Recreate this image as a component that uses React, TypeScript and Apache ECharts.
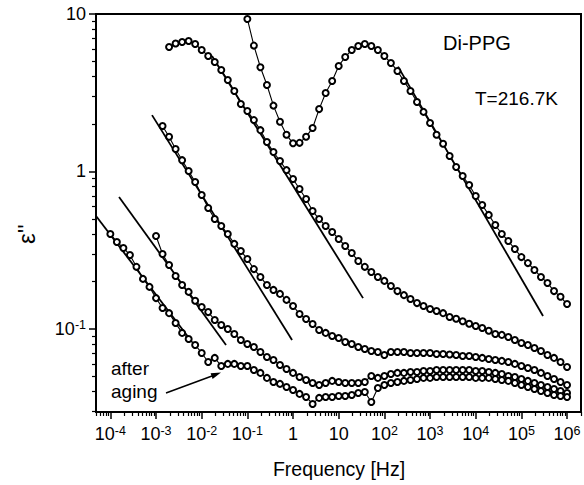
import React, { useEffect, useRef } from 'react';
import * as echarts from 'echarts';

// Frequency grid (Hz), 7 points per decade, shared by all measured curves (curves end at 1e6 Hz)
const freq = [
  1e-4, 1.389e-4, 1.931e-4, 2.683e-4, 3.728e-4, 5.179e-4, 7.197e-4,
  1e-3, 1.389e-3, 1.931e-3, 2.683e-3, 3.728e-3, 5.179e-3, 7.197e-3,
  0.01, 0.01389, 0.01931, 0.02683, 0.03728, 0.05179, 0.07197,
  0.1, 0.1389, 0.1931, 0.2683, 0.3728, 0.5179, 0.7197,
  1, 1.389, 1.931, 2.683, 3.728, 5.179, 7.197,
  10, 13.89, 19.31, 26.83, 37.28, 51.79, 71.97,
  100, 138.9, 193.1, 268.3, 372.8, 517.9, 719.7,
  1000, 1389, 1931, 2683, 3728, 5179, 7197,
  1e4, 13890, 19310, 26830, 37280, 51790, 71970,
  1e5, 138900, 193100, 268300, 372800, 517900, 719700,
  1e6,
];

// eps'' values, aligned to the END of freq
const curveA = [
  9.3, 6.30, 4.59, 3.54, 2.62, 2.07, 1.71,
  1.51, 1.52, 1.66, 1.89, 2.49, 3.15, 3.75,
  4.68, 5.33, 5.91, 6.27, 6.45, 6.27, 5.91,
  5.41, 4.89, 4.35, 3.75, 3.24, 2.76, 2.39,
  2.03, 1.71, 1.50, 1.254, 1.069, 0.936, 0.821,
  0.699, 0.613, 0.530, 0.457, 0.401, 0.362, 0.322,
  0.286, 0.262, 0.237, 0.214, 0.196, 0.174, 0.160,
  0.144,
];
const curveB = [
  6.17, 6.50, 6.64, 6.74, 6.45, 5.91, 5.41,
  4.96, 4.41, 3.81, 3.24, 2.68, 2.42, 2.12,
  1.83, 1.54, 1.33, 1.166, 1.02, 0.896, 0.774,
  0.669, 0.561, 0.499, 0.451, 0.413, 0.373, 0.336,
  0.304, 0.270, 0.248, 0.230, 0.214, 0.202, 0.1875,
  0.174, 0.164, 0.155, 0.146, 0.140, 0.134, 0.130,
  0.126, 0.119, 0.116, 0.112, 0.108, 0.1045, 0.1014,
  0.0975, 0.0929, 0.0917, 0.0889, 0.0851, 0.0815, 0.0791,
  0.0757, 0.0725, 0.0684, 0.0655, 0.0617, 0.0574,
];
const curveC = [
  1.945, 1.66, 1.39, 1.18, 1.007, 0.858, 0.709,
  0.586, 0.499, 0.451, 0.401, 0.347, 0.313, 0.278,
  0.240, 0.214, 0.190, 0.177, 0.167, 0.153, 0.140,
  0.1245, 0.1157, 0.1076, 0.0986, 0.0944, 0.0903, 0.0877,
  0.0827, 0.0803, 0.0769, 0.0746, 0.0725, 0.0714, 0.0684,
  0.0714, 0.0714, 0.0714, 0.0704, 0.0704, 0.0704, 0.0704,
  0.0694, 0.0694, 0.0689, 0.0684, 0.0674, 0.0674, 0.0664,
  0.0655, 0.0645, 0.0636, 0.0627, 0.0617, 0.0600, 0.0582,
  0.0565, 0.0549, 0.0526, 0.0503, 0.0481, 0.0461, 0.0441,
];
const curveD = [
  0.389, 0.299, 0.255, 0.217, 0.190, 0.172, 0.151,
  0.138, 0.128, 0.114, 0.106, 0.100, 0.0929, 0.0851,
  0.0803, 0.0769, 0.0714, 0.0664, 0.0636, 0.0591, 0.0557,
  0.0526, 0.0496, 0.0474, 0.0454, 0.0441, 0.0454, 0.0468,
  0.0461, 0.0454, 0.0454, 0.0454, 0.0461, 0.0503, 0.0489,
  0.0503, 0.0518, 0.0526, 0.0526, 0.0533, 0.0533, 0.0541,
  0.0541, 0.0549, 0.0549, 0.0549, 0.0549, 0.0549, 0.0549,
  0.0541, 0.0541, 0.0533, 0.0526, 0.0518, 0.0503, 0.0496,
  0.0481, 0.0468, 0.0454, 0.0441, 0.0428, 0.0416, 0.0404,
  0.0392,
];
const curveE = [
  0.401, 0.357, 0.327, 0.295, 0.248, 0.208, 0.185,
  0.157, 0.136, 0.126, 0.109, 0.0944, 0.0864, 0.0791,
  0.0704, 0.0617, 0.0655, 0.0582, 0.0600, 0.0600, 0.0582,
  0.0582, 0.0549, 0.0526, 0.0489, 0.0461, 0.0448, 0.0428,
  0.0410, 0.0387, 0.0370, 0.0334, 0.0365, 0.0370, 0.0370,
  0.0375, 0.0375, 0.0381, 0.0392, 0.0398, 0.0344, 0.0422,
  0.0441, 0.0454, 0.0461, 0.0468, 0.0474, 0.0481, 0.0489,
  0.0489, 0.0496, 0.0496, 0.0496, 0.0496, 0.0496, 0.0496,
  0.0489, 0.0489, 0.0489, 0.0481, 0.0474, 0.0468, 0.0454,
  0.0441, 0.0428, 0.0416, 0.0404, 0.0392, 0.0381, 0.0375,
  0.0370,
];

// Power-law fit lines: [freq, eps'']
const fitA = [[199, 4.63], [2.98e5, 0.121]];
const fitB = [[0.01683, 5.41], [34.1, 0.157]];
const fitC = [[8.18e-4, 2.28], [0.951, 0.0851]];
const fitD = [[1.549e-4, 0.689], [0.0341, 0.0791]];
const fitE = [[4.86e-5, 0.522], [6.14e-3, 0.0827]];

// Axis ranges
const xRange = [4.85e-5, 2.02e6];
const yRange = [0.0297, 10];
const xMajorExp = [-4, -3, -2, -1, 0, 1, 2, 3, 4, 5, 6];
const yMajorExp = [-1, 0, 1];

const FONT = '"Liberation Sans", Arial, Helvetica, sans-serif';
const lg = (v: number) => Math.log10(v);

function curvePoints(vals: number[]) {
  const off = freq.length - vals.length;
  return vals.map((v, i) => [lg(freq[off + i]), lg(v)]);
}
function fitPoints(pts: number[][]) {
  return pts.map(([f, e]) => [lg(f), lg(e)]);
}
function minorTicks(lo: number, hi: number) {
  const out: number[] = [];
  for (let d = Math.floor(lo) - 1; d <= Math.ceil(hi); d++) {
    for (let k = 2; k <= 9; k++) {
      const v = d + Math.log10(k);
      if (v > lo && v < hi) out.push(v);
    }
  }
  return out;
}
function expLabel(v: number) {
  const e = Math.round(v);
  if (e === 0) return '{b|1}';
  if (e === 1) return '{b|10}';
  return `{b|10}{s|${e}}`;
}

const rich = {
  b: { fontSize: 18, fontFamily: FONT, color: '#000', lineHeight: 20 },
  s: { fontSize: 12.5, fontFamily: FONT, color: '#000', lineHeight: 11, verticalAlign: 'top' },
};

export default function App() {
  const ref = useRef<HTMLDivElement>(null);
  useEffect(() => {
    if (!ref.current) return;
    const chart = echarts.init(ref.current, null, { renderer: 'svg' });
    const xMin = lg(xRange[0]);
    const xMax = lg(xRange[1]);
    const yMin = lg(yRange[0]);
    const yMax = lg(yRange[1]);
    const axisColor = '#000';

    const dataSeries = [curveA, curveB, curveC, curveD, curveE].map((c, i) => ({
      type: 'line',
      name: 'curve' + i,
      data: curvePoints(c),
      symbol: 'emptyCircle',
      symbolSize: 6,
      showSymbol: true,
      itemStyle: { color: '#000', borderColor: '#000', borderWidth: 2 },
      lineStyle: { color: '#000', width: 1.1 },
      z: 3,
      silent: true,
    }));
    const fitSeries = [fitA, fitB, fitC, fitD, fitE].map((f, i) => ({
      type: 'line',
      name: 'fit' + i,
      data: fitPoints(f),
      symbol: 'none',
      lineStyle: { color: '#000', width: 1.8 },
      z: 2,
      silent: true,
    }));

    chart.setOption({
      animation: false,
      backgroundColor: '#fff',
      grid: {
        left: 96, right: 3, top: 14, bottom: 73,
        show: true, borderColor: '#000', borderWidth: 2,
        backgroundColor: 'transparent',
        containLabel: false,
        outerBoundsMode: 'none',
      },
      xAxis: [
        {
          type: 'value', min: xMin, max: xMax, position: 'bottom',
          axisLine: { show: true, onZero: false, lineStyle: { color: axisColor, width: 2 } },
          axisTick: { show: true, inside: false, length: 7, customValues: xMajorExp, lineStyle: { color: axisColor, width: 1.5 } },
          axisLabel: { customValues: xMajorExp, formatter: expLabel, margin: 12, rich },
          splitLine: { show: false },
        },
        {
          type: 'value', min: xMin, max: xMax, position: 'bottom',
          axisLine: { show: false, onZero: false },
          axisTick: { show: true, inside: false, length: 4, customValues: minorTicks(xMin, xMax), lineStyle: { color: axisColor, width: 1.2 } },
          axisLabel: { show: false },
          splitLine: { show: false },
        },
      ],
      yAxis: [
        {
          type: 'value', min: yMin, max: yMax, position: 'left',
          axisLine: { show: true, onZero: false, lineStyle: { color: axisColor, width: 2 } },
          axisTick: { show: true, inside: false, length: 7, customValues: yMajorExp, lineStyle: { color: axisColor, width: 1.5 } },
          axisLabel: { customValues: yMajorExp, formatter: expLabel, margin: 10, rich },
          splitLine: { show: false },
        },
        {
          type: 'value', min: yMin, max: yMax, position: 'left',
          axisLine: { show: false, onZero: false },
          axisTick: { show: true, inside: false, length: 4, customValues: minorTicks(yMin, yMax), lineStyle: { color: axisColor, width: 1.2 } },
          axisLabel: { show: false },
          splitLine: { show: false },
        },
      ],
      graphic: [
        { type: 'text', x: 443, y: 43, style: { text: 'Di-PPG', fill: '#000', fontSize: 20, fontFamily: FONT, align: 'left', verticalAlign: 'middle' } },
        { type: 'text', x: 475, y: 98.5, style: { text: 'T=216.7K', fill: '#000', fontSize: 19, fontFamily: FONT, align: 'left', verticalAlign: 'middle' } },
        { type: 'text', x: 111, y: 368, style: { text: 'after', fill: '#000', fontSize: 19, fontFamily: FONT, align: 'left', verticalAlign: 'middle' } },
        { type: 'text', x: 111, y: 391, style: { text: 'aging', fill: '#000', fontSize: 19, fontFamily: FONT, align: 'left', verticalAlign: 'middle' } },
        { type: 'text', x: 339, y: 469, style: { text: 'Frequency [Hz]', fill: '#000', fontSize: 19.5, fontFamily: FONT, align: 'center', verticalAlign: 'middle' } },
        { type: 'text', x: 26, y: 234, rotation: Math.PI / 2, style: { text: "\u03B5''", fill: '#000', fontSize: 24, fontFamily: FONT, align: 'center', verticalAlign: 'middle' } },
        { type: 'line', shape: { x1: 166, y1: 393, x2: 212, y2: 376 }, style: { stroke: '#000', lineWidth: 1.5 } },
        { type: 'polygon', shape: { points: [[221, 372.6], [212.6, 378.9], [210.6, 373.3]] }, style: { fill: '#000' } },
      ],
      series: [...fitSeries, ...dataSeries],
    });
    return () => chart.dispose();
  }, []);
  return <div ref={ref} style={{ position: 'absolute', left: 0, top: 0, width: 584, height: 485 }} />;
}
